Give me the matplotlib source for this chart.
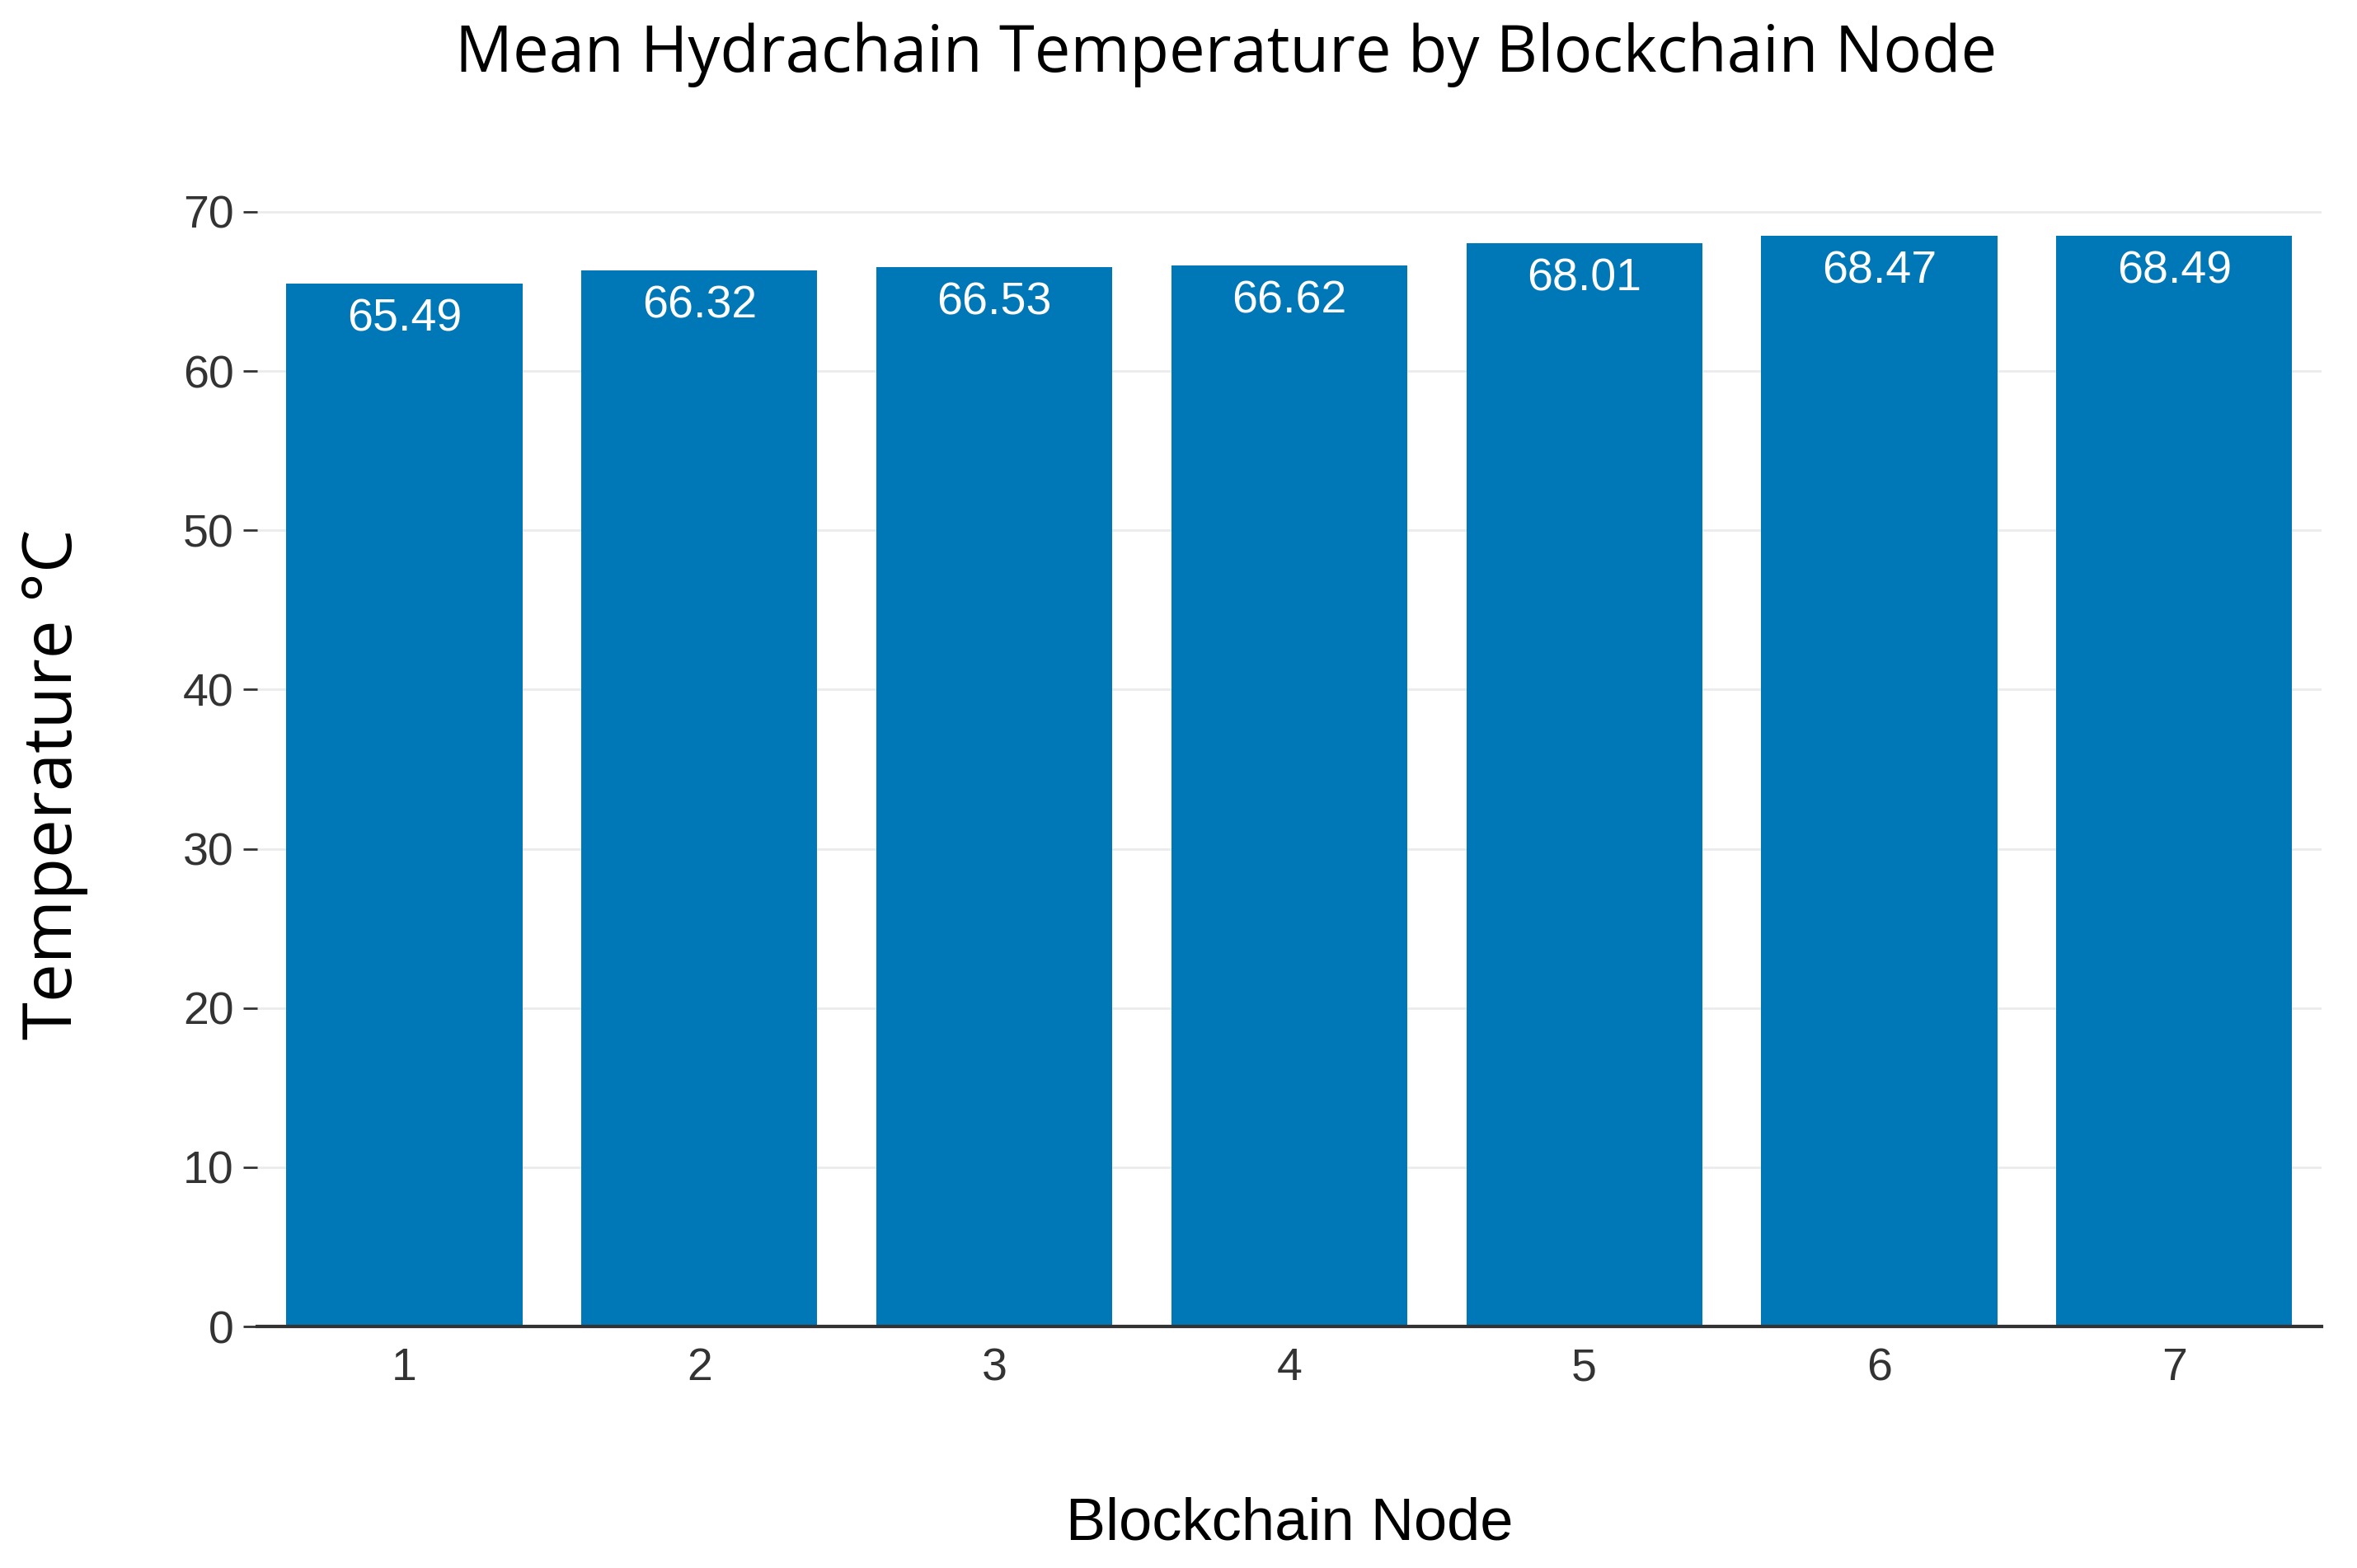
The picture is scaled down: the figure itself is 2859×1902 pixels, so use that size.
import matplotlib.pyplot as plt
import numpy as np

nodes = ["1", "2", "3", "4", "5", "6", "7"]
temps = [65.49, 66.32, 66.53, 66.62, 68.01, 68.47, 68.49]
yticks = [0, 10, 20, 30, 40, 50, 60, 70]

fig = plt.figure(figsize=(28.59, 19.02), dpi=100)
ax = fig.add_axes([0.109, 0.154, 0.876, 0.716])

x = np.arange(1, len(nodes) + 1)
bars = ax.bar(x, temps, width=0.8, color="#0077b6", zorder=2)
for xi, t in zip(x, temps):
    ax.text(xi, t - 0.9, f"{t:.2f}", ha="center", va="top", color="white",
            fontsize=40, family="Liberation Sans", zorder=3)

ax.set_xlim(0.5, 7.5)
ax.set_ylim(0, 70.5)
ax.set_xticks(x)
ax.set_xticklabels(nodes)
ax.set_yticks(yticks)
ax.grid(axis="y", color="#ebebeb", linewidth=2, zorder=0)
for s in ["top", "right", "left"]:
    ax.spines[s].set_visible(False)
ax.spines["bottom"].set_linewidth(3)
ax.spines["bottom"].set_color("#333333")
ax.tick_params(axis="x", length=0, pad=18, labelsize=40, labelcolor="#333333")
ax.tick_params(axis="y", length=12, width=2, color="#333333", pad=8, labelsize=40, labelcolor="#333333")
for lab in ax.get_xticklabels() + ax.get_yticklabels():
    lab.set_family("Liberation Sans")

fig.text(0.52, 0.965, "Mean Hydrachain Temperature by Blockchain Node", ha="center", va="center",
         fontsize=56, family="Open Sans")
fig.text(0.547, 0.028, "Blockchain Node", ha="center", va="center", fontsize=52, family="Liberation Sans")
fig.text(0.023, 0.5, "Temperature °C", ha="center", va="center", rotation=90, fontsize=60, family="Open Sans")

fig.savefig("out.png", facecolor="white")
